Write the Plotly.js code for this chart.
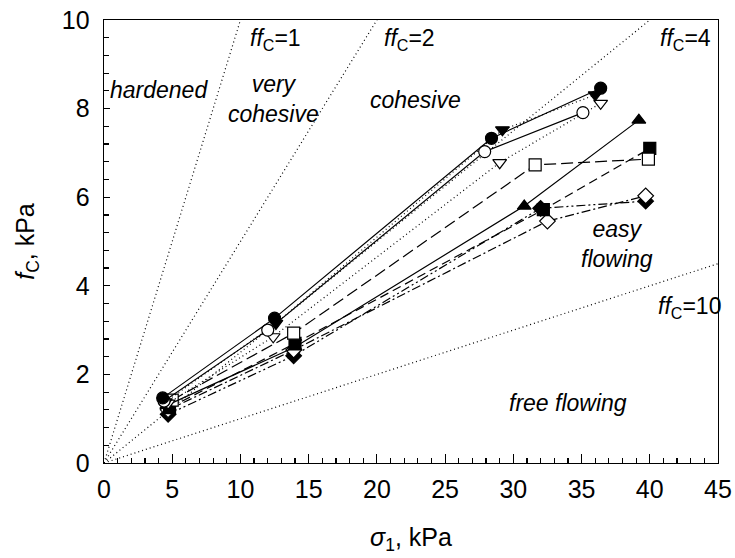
<!DOCTYPE html>
<html>
<head>
<meta charset="utf-8">
<script src="https://cdn.plot.ly/plotly-3.0.1.min.js"></script>
<style>
  html, body { margin: 0; padding: 0; background: #fff; }
  #chart { width: 735px; height: 558px; }
</style>
</head>
<body>
<div id="chart"></div>
<script>
// Major principal stress sigma_1 (kPa) and unconfined yield strength f_C (kPa) per sample
const sigmaFilledCircle   = [4.3, 12.5, 28.4, 36.4];
const fcFilledCircle      = [1.47, 3.27, 7.33, 8.46];
const sigmaOpenCircle     = [4.4, 12.0, 27.9, 35.1];
const fcOpenCircle        = [1.40, 3.00, 7.03, 7.91];
const sigmaFilledDown     = [4.5, 12.6, 29.2, 36.0];
const fcFilledDown        = [1.38, 3.15, 7.52, 8.31];
const sigmaOpenDown       = [4.7, 12.4, 29.0, 36.4];
const fcOpenDown          = [1.35, 2.85, 6.78, 8.12];
const sigmaFilledUp       = [4.6, 14.0, 30.8, 39.2];
const fcFilledUp          = [1.30, 2.62, 5.80, 7.74];
const sigmaOpenSquare     = [5.0, 13.9, 31.6, 39.9];
const fcOpenSquare        = [1.42, 2.93, 6.73, 6.86];
const sigmaFilledSquare   = [4.8, 14.0, 32.2, 40.0];
const fcFilledSquare      = [1.25, 2.70, 5.72, 7.10];
const sigmaOpenDiamond    = [4.7, 13.9, 32.5, 39.7];
const fcOpenDiamond       = [1.20, 2.55, 5.46, 6.03];
const sigmaFilledDiamond  = [4.7, 13.9, 32.0, 39.7];
const fcFilledDiamond     = [1.10, 2.42, 5.75, 5.91];

// Flowability boundaries ff_C = sigma_1 / f_C
const ffcValues = [1, 2, 4, 10];
const sigmaMax = 45;

// Region names and boundary labels
const regionLabels = ['hardened', 'very<br>cohesive', 'cohesive', 'easy<br>flowing', 'free flowing'];
const regionX      = [4.0, 12.4, 22.8, 37.6, 34.0];
const regionY      = [8.42, 8.22, 8.2, 4.95, 1.35];
const ffcLabelX    = [12.6, 22.4, 42.6, 42.9];
const ffcLabelY    = [9.55, 9.55, 9.55, 3.5];

const traces = [];

ffcValues.forEach(ff => {
  traces.push({
    x: [0, sigmaMax], y: [0, sigmaMax / ff],
    mode: 'lines', hoverinfo: 'skip', showlegend: false,
    line: { color: '#000', width: 1.2, dash: '1px,3px' }
  });
});

function series(x, y, symbol, filled, dash) {
  return {
    x, y, mode: 'lines+markers', showlegend: false, cliponaxis: false,
    line: { color: '#000', width: 1.2, dash },
    marker: {
      symbol, size: 12,
      color: filled ? '#000' : '#fff',
      line: { color: '#000', width: 1.2 }
    }
  };
}

traces.push(series(sigmaFilledDiamond, fcFilledDiamond, 'diamond', true, '9px,3px,2px,3px,2px,3px'));
traces.push(series(sigmaOpenDiamond, fcOpenDiamond, 'diamond', false, '9px,3px,2px,3px'));
traces.push(series(sigmaFilledSquare, fcFilledSquare, 'square', true, '9px,5px'));
traces.push(series(sigmaOpenSquare, fcOpenSquare, 'square', false, '12px,5px'));
traces.push(series(sigmaFilledUp, fcFilledUp, 'triangle-up', true, 'solid'));
traces.push(series(sigmaOpenDown, fcOpenDown, 'triangle-down', false, '1px,3px'));
traces.push(series(sigmaFilledDown, fcFilledDown, 'triangle-down', true, '1px,3px'));
traces.push(series(sigmaOpenCircle, fcOpenCircle, 'circle', false, 'solid'));
traces.push(series(sigmaFilledCircle, fcFilledCircle, 'circle', true, 'solid'));

const labelFont = { family: 'Liberation Sans, Arial, sans-serif', size: 23, color: '#000' };
const annotations = [];
regionLabels.forEach((t, i) => {
  annotations.push({
    x: regionX[i], y: regionY[i], xref: 'x', yref: 'y',
    text: '<i>' + t + '</i>', showarrow: false, font: labelFont
  });
});
ffcValues.forEach((ff, i) => {
  annotations.push({
    x: ffcLabelX[i], y: ffcLabelY[i], xref: 'x', yref: 'y',
    text: '<i>ff</i><sub>C</sub>=' + ff, showarrow: false, font: labelFont
  });
});

const tickFont = { family: 'Liberation Sans, Arial, sans-serif', size: 25, color: '#000' };

const layout = {
  width: 735, height: 558,
  margin: { l: 104, r: 17, t: 20, b: 95 },
  paper_bgcolor: '#fff', plot_bgcolor: '#fff',
  showlegend: false,
  xaxis: {
    range: [0, 45], dtick: 5, tick0: 0,
    ticks: 'inside', ticklen: 9, tickwidth: 1.2, tickcolor: '#000',
    minor: { dtick: 1, ticks: 'inside', ticklen: 5, tickwidth: 1.2, tickcolor: '#000' },
    showline: true, linecolor: '#000', linewidth: 1.4, mirror: true,
    showgrid: false, zeroline: false,
    tickfont: tickFont, ticklabelstandoff: 4,
    title: { text: '<i>σ</i><sub>1</sub>, kPa', font: tickFont, standoff: 26 }
  },
  yaxis: {
    range: [0, 10], dtick: 2, tick0: 0,
    ticks: 'inside', ticklen: 6, tickwidth: 1.2, tickcolor: '#000',
    minor: { dtick: 0.4, ticks: 'inside', ticklen: 5, tickwidth: 1.2, tickcolor: '#000' },
    showline: true, linecolor: '#000', linewidth: 1.4, mirror: true,
    showgrid: false, zeroline: false,
    tickfont: tickFont, ticklabelstandoff: 8,
    title: { text: '<i>f</i><sub>C</sub>, kPa', font: tickFont, standoff: 20 }
  },
  annotations
};

Plotly.newPlot('chart', traces, layout, { staticPlot: true });
</script>
</body>
</html>
